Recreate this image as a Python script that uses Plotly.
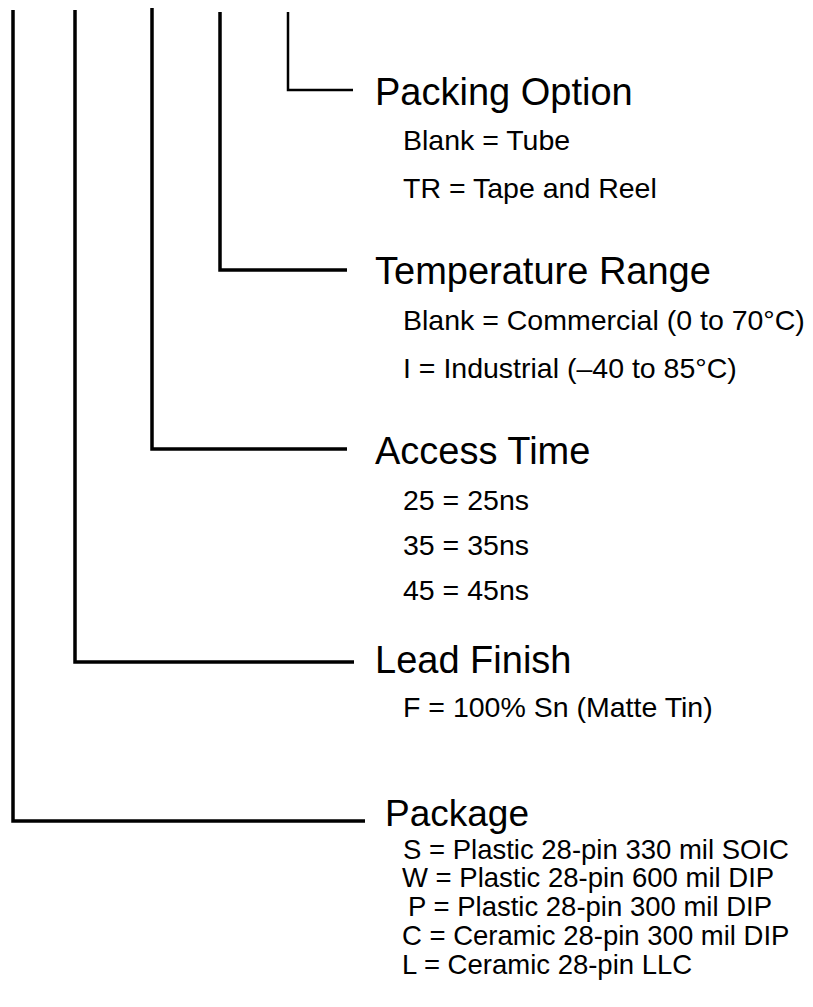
import plotly.graph_objects as go

# ---- content ----
section_titles = ["Packing Option", "Temperature Range", "Access Time", "Lead Finish", "Package"]
section_items = [
    ["Blank = Tube", "TR = Tape and Reel"],
    ["Blank = Commercial (0 to 70°C)", "I = Industrial (–40 to 85°C)"],
    ["25 = 25ns", "35 = 35ns", "45 = 45ns"],
    ["F = 100% Sn (Matte Tin)"],
    ["S = Plastic 28-pin 330 mil SOIC", "W = Plastic 28-pin 600 mil DIP",
     "P = Plastic 28-pin 300 mil DIP", "C = Ceramic 28-pin 300 mil DIP",
     "L = Ceramic 28-pin LLC"],
]

# ---- layout (screen pixel coordinates; page body has an 8px margin) ----
W, H = 813, 1007
OFF = 8
leader_x = [288, 220, 152, 75, 13]        # vertical leader x
leader_top = [12, 12, 8, 10, 10]          # top of vertical leader
leader_y = [90, 270, 449, 662, 821]       # elbow / horizontal y
leader_end = [353, 347, 347, 354, 365]    # end of horizontal
leader_w = [2.5, 3.5, 3.5, 3.5, 3.5]
title_x = [373, 373, 373, 373, 383]
title_y = [92, 271, 451, 660, 813]
title_size = [38, 38, 38, 38, 37]
item_x = [[401, 401], [401, 401], [401, 401, 401], [401], [401, 400, 406, 400, 400]]
item_y = [[140, 188], [320, 368], [500, 545, 590], [707], [849, 877, 906, 935, 964]]
item_size = [28.5, 28.5, 28.5, 28.5, 27.5]

FONT = "Liberation Sans, Arial, sans-serif"

fig = go.Figure()
for i in range(len(section_titles)):
    fig.add_trace(go.Scatter(
        x=[leader_x[i], leader_x[i], leader_end[i]],
        y=[leader_top[i], leader_y[i], leader_y[i]],
        mode="lines", line=dict(color="black", width=leader_w[i]),
        hoverinfo="skip", showlegend=False))
    fig.add_annotation(x=title_x[i], y=title_y[i], text=section_titles[i],
                       xanchor="left", yanchor="middle", showarrow=False,
                       font=dict(family=FONT, size=title_size[i], color="black"))
    for t, xx, yy in zip(section_items[i], item_x[i], item_y[i]):
        fig.add_annotation(x=xx, y=yy, text=t, xanchor="left", yanchor="middle",
                           showarrow=False,
                           font=dict(family=FONT, size=item_size[i], color="black"))

fig.update_layout(
    width=W, height=H, margin=dict(l=0, r=0, t=0, b=0),
    paper_bgcolor="white", plot_bgcolor="white",
    xaxis=dict(range=[OFF, W + OFF], visible=False, fixedrange=True),
    yaxis=dict(range=[H + OFF, OFF], visible=False, fixedrange=True),
)
fig.write_html("out.html")
